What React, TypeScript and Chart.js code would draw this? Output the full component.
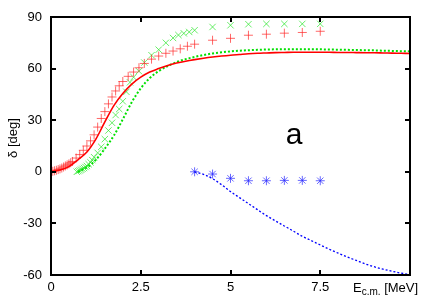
import React, { useEffect, useRef } from "react";
import { Chart, registerables } from "chart.js";
Chart.register(...registerables);

// Measured phase shifts (markers)
const redPtsE = [0.05, 0.1, 0.15, 0.2, 0.25, 0.3, 0.35, 0.4, 0.45, 0.5, 0.55, 0.6, 0.7, 0.8, 0.9, 1.0, 1.1, 1.2, 1.3, 1.4, 1.5, 1.6, 1.7, 1.8, 1.9, 2.0, 2.15, 2.3, 2.45, 2.6, 2.8, 3.0, 3.2, 3.4, 3.6, 3.8, 4.0, 4.5, 5.0, 5.5, 6.0, 6.5, 7.0, 7.5];
const redPtsDelta = [0.3, 0.6, 0.9, 1.3, 1.7, 2.2, 2.8, 3.4, 4.0, 4.6, 5.3, 6.0, 8.0, 10.0, 12.5, 15, 18, 21.5, 26, 31, 35, 39.5, 43.5, 47, 50, 52.5, 55.5, 58, 60.5, 63, 65.5, 67.3, 68.9, 70.2, 71.5, 73, 74.2, 76.5, 77.6, 79.4, 80, 80.6, 81, 81.7];

const greenPtsE = [0.72, 0.76, 0.8, 0.84, 0.88, 0.92, 0.96, 1.0, 1.05, 1.1, 1.15, 1.2, 1.3, 1.4, 1.5, 1.6, 1.7, 1.8, 1.9, 2.0, 2.1, 2.2, 2.3, 2.45, 2.6, 2.8, 3.0, 3.2, 3.4, 3.55, 3.7, 3.85, 4.0, 4.5, 5.0, 5.5, 6.0, 6.5, 7.0, 7.5];
const greenPtsDelta = [0, 0.4, 0.8, 1.2, 1.7, 2.2, 2.8, 3.4, 4.4, 5.5, 6.8, 8.5, 11, 14.5, 19, 24, 28.5, 33, 36.5, 41, 46.5, 52, 55, 58.5, 63.5, 67.8, 71, 75, 77.8, 79.5, 80.5, 81.3, 82.3, 84.2, 85.2, 85.8, 86, 86, 86, 86];

const bluePtsE = [4.0, 4.5, 5.0, 5.5, 6.0, 6.5, 7.0, 7.5];
const bluePtsDelta = [0, -1.3, -3.8, -5.2, -5.2, -5.0, -5.0, -5.2];

// Calculated curves
const redCurveE = [0, 0.25, 0.5, 0.75, 1, 1.25, 1.5, 1.75, 2, 2.25, 2.5, 2.75, 3, 3.25, 3.5, 3.75, 4, 4.25, 4.5, 4.75, 5, 5.25, 5.5, 5.75, 6, 6.25, 6.5, 6.75, 7, 7.25, 7.5, 7.75, 8, 8.25, 8.5, 8.75, 9, 9.25, 9.5, 9.75, 10];
const redCurveDelta = [0, 1.0, 3.0, 7.0, 11.5, 19, 29, 38.5, 45.5, 51, 55, 58, 60, 61.8, 63.2, 64.3, 65.2, 66.0, 66.7, 67.3, 67.8, 68.2, 68.6, 68.9, 69.1, 69.3, 69.4, 69.5, 69.5, 69.5, 69.5, 69.5, 69.4, 69.4, 69.3, 69.2, 69.2, 69.1, 69.0, 68.9, 68.8];

const greenCurveE = [0.75, 1, 1.25, 1.5, 1.75, 2, 2.25, 2.5, 2.75, 3, 3.25, 3.5, 3.75, 4, 4.25, 4.5, 4.75, 5, 5.25, 5.5, 5.75, 6, 6.25, 6.5, 6.75, 7, 7.25, 7.5, 7.75, 8, 8.25, 8.5, 8.75, 9, 9.25, 9.5, 9.75, 10];
const greenCurveDelta = [0, 2.5, 7, 13.5, 21, 30.5, 40.5, 48.5, 54.5, 58.5, 61.5, 63.8, 65.5, 66.8, 67.9, 68.8, 69.5, 70.0, 70.4, 70.7, 70.9, 71.1, 71.2, 71.3, 71.3, 71.3, 71.3, 71.2, 71.1, 71.0, 70.9, 70.8, 70.7, 70.6, 70.4, 70.3, 70.1, 70.0];

const blueCurveE = [4, 4.25, 4.5, 4.75, 5, 5.25, 5.5, 5.75, 6, 6.25, 6.5, 6.75, 7, 7.25, 7.5, 7.75, 8, 8.25, 8.5, 8.75, 9, 9.25, 9.5, 9.75, 10];
const blueCurveDelta = [0, -1.5, -4, -7.5, -11.5, -15, -18.5, -22, -25.5, -28.5, -31.5, -34.5, -37.5, -40, -42.5, -45, -47.3, -49.5, -51.5, -53.5, -55.2, -56.6, -57.8, -58.9, -59.8];

const xTickValues = [0, 2.5, 5, 7.5, 10];
const yTickValues = [-60, -30, 0, 30, 60, 90];

const FONT = "'Liberation Sans', Arial, Helvetica, sans-serif";

export default function App() {
  const ref = useRef<HTMLCanvasElement>(null);

  useEffect(() => {
    if (!ref.current) return;
    const zip = (xs: number[], ys: number[]) => xs.map((x, i) => ({ x, y: ys[i] }));

    const framePlugin = {
      id: "frame",
      afterDraw(chart: any) {
        const { ctx, chartArea: a, scales } = chart;
        ctx.save();
        ctx.strokeStyle = "#000";
        ctx.lineWidth = 2;
        ctx.strokeRect(a.left, a.top, a.right - a.left, a.bottom - a.top);
        const L = 5;
        ctx.beginPath();
        xTickValues.forEach((v) => {
          const p = Math.round(scales.x.getPixelForValue(v));
          ctx.moveTo(p, a.bottom);
          ctx.lineTo(p, a.bottom - L);
          ctx.moveTo(p, a.top);
          ctx.lineTo(p, a.top + L);
        });
        yTickValues.forEach((v) => {
          const p = Math.round(scales.y.getPixelForValue(v));
          ctx.moveTo(a.left, p);
          ctx.lineTo(a.left + L, p);
          ctx.moveTo(a.right, p);
          ctx.lineTo(a.right - L, p);
        });
        ctx.stroke();

        ctx.fillStyle = "#000";
        // y axis title
        ctx.save();
        ctx.translate(13, 138);
        ctx.rotate(-Math.PI / 2);
        ctx.font = `13px ${FONT}`;
        ctx.textAlign = "center";
        ctx.textBaseline = "middle";
        ctx.fillText("δ [deg]", 0, 0);
        ctx.restore();

        // x axis title with subscript
        ctx.textAlign = "left";
        ctx.textBaseline = "alphabetic";
        let x = 353;
        const base = 292;
        ctx.font = `13px ${FONT}`;
        ctx.fillText("E", x, base);
        x += ctx.measureText("E").width;
        ctx.font = `10px ${FONT}`;
        ctx.fillText("c.m.", x, base + 3);
        x += ctx.measureText("c.m.").width;
        ctx.font = `13px ${FONT}`;
        ctx.fillText(" [MeV]", x, base);

        // panel label
        ctx.font = `30px ${FONT}`;
        ctx.textAlign = "center";
        ctx.textBaseline = "middle";
        ctx.fillText("a", 294, 136);
        ctx.restore();
      },
    };

    const chart = new Chart(ref.current, {
      type: "scatter",
      data: {
        datasets: [
          {
            label: "calc red",
            data: zip(redCurveE, redCurveDelta),
            showLine: true,
            borderColor: "#ff0000",
            borderWidth: 1.6,
            pointRadius: 0,
            cubicInterpolationMode: "monotone",
          },
          {
            label: "calc green",
            data: zip(greenCurveE, greenCurveDelta),
            showLine: true,
            borderColor: "#00e000",
            borderWidth: 2,
            borderDash: [2, 2],
            pointRadius: 0,
            cubicInterpolationMode: "monotone",
          },
          {
            label: "calc blue",
            data: zip(blueCurveE, blueCurveDelta),
            showLine: true,
            borderColor: "#0000ff",
            borderWidth: 1.3,
            borderDash: [2, 2],
            pointRadius: 0,
            cubicInterpolationMode: "monotone",
          },
          {
            label: "exp red",
            data: zip(redPtsE, redPtsDelta),
            showLine: false,
            pointStyle: "cross",
            pointRadius: 4.5,
            borderColor: "rgba(255,40,40,0.7)",
            backgroundColor: "rgba(255,40,40,0.7)",
            pointBorderWidth: 1,
          },
          {
            label: "exp green",
            data: zip(greenPtsE, greenPtsDelta),
            showLine: false,
            pointStyle: "crossRot",
            pointRadius: 4.5,
            borderColor: "rgba(40,230,40,0.7)",
            backgroundColor: "rgba(40,230,40,0.7)",
            pointBorderWidth: 1,
          },
          {
            label: "exp blue",
            data: zip(bluePtsE, bluePtsDelta),
            showLine: false,
            pointStyle: "star",
            pointRadius: 4.5,
            borderColor: "rgba(40,40,255,0.7)",
            backgroundColor: "rgba(40,40,255,0.7)",
            pointBorderWidth: 1,
          },
        ],
      },
      options: {
        responsive: false,
        animation: false,
        layout: { padding: { top: 17, right: 26, left: 0, bottom: 0 } },
        plugins: { legend: { display: false }, tooltip: { enabled: false } },
        scales: {
          x: {
            type: "linear",
            min: 0,
            max: 10,
            afterBuildTicks: (s: any) => {
              s.ticks = xTickValues.map((v) => ({ value: v }));
            },
            afterFit: (s: any) => {
              s.height = 30;
            },
            ticks: {
              callback: (v: any) => (v === 10 ? "" : String(v)),
              font: { family: FONT, size: 13 },
              color: "#000",
              padding: 5,
              maxRotation: 0,
              autoSkip: false,
            },
            grid: { display: false, drawTicks: false },
            border: { display: false },
          },
          y: {
            type: "linear",
            min: -60,
            max: 90,
            afterBuildTicks: (s: any) => {
              s.ticks = yTickValues.map((v) => ({ value: v }));
            },
            afterFit: (s: any) => {
              s.width = 51;
            },
            ticks: {
              callback: (v: any) => String(v),
              font: { family: FONT, size: 13 },
              color: "#000",
              padding: 9,
              autoSkip: false,
            },
            grid: { display: false, drawTicks: false },
            border: { display: false },
          },
        },
      },
      plugins: [framePlugin],
    } as any);

    return () => chart.destroy();
  }, []);

  return (
    <div style={{ position: "absolute", left: 0, top: 0, width: 436, height: 305, background: "#fff" }}>
      <canvas ref={ref} width={436} height={305} style={{ width: 436, height: 305, display: "block" }} />
    </div>
  );
}
